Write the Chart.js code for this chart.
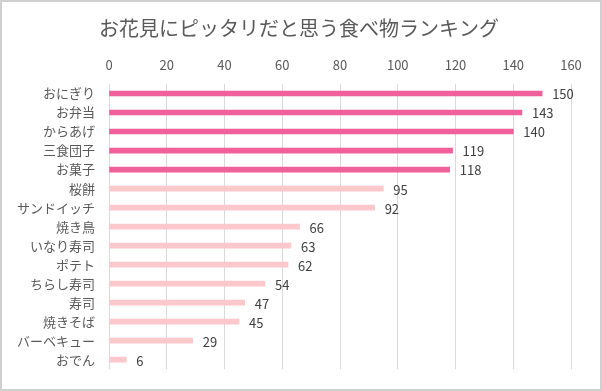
<!DOCTYPE html>
<html>
<head>
<meta charset="utf-8">
<script src="https://cdn.jsdelivr.net/npm/chart.js@4.4.0/dist/chart.umd.min.js"></script>
<style>
  body { margin: 0; background: #fff; }
  canvas { display: block; }
</style>
</head>
<body>
<canvas id="chart" width="602" height="391"></canvas>
<script>
const titleText = 'お花見にピッタリだと思う食べ物ランキング';
const foods = ['おにぎり', 'お弁当', 'からあげ', '三食団子', 'お菓子', '桜餅', 'サンドイッチ', '焼き鳥', 'いなり寿司', 'ポテト', 'ちらし寿司', '寿司', '焼きそば', 'バーベキュー', 'おでん'];
const votes = [150, 143, 140, 119, 118, 95, 92, 66, 63, 62, 54, 47, 45, 29, 6];
const topCount = 5;

const font = '"Noto Sans CJK JP", "Noto Sans", sans-serif';

// 上位5つは濃いピンク
const barColors = votes.map((v, i) => i < topCount ? '#f0609a' : '#fcc8cc');

// タイトル・枠線・数値ラベル
const decorations = {
    id: 'decorations',
    beforeDraw(chart) {
        const ctx = chart.ctx;
        ctx.save();
        ctx.fillStyle = '#fff';
        ctx.fillRect(0, 0, chart.width, chart.height);
        ctx.restore();
    },
    afterDraw(chart) {
        const ctx = chart.ctx;
        ctx.save();
        ctx.font = '20px ' + font;
        ctx.fillStyle = '#595959';
        ctx.textAlign = 'center';
        ctx.textBaseline = 'middle';
        ctx.fillText(titleText, 299, 28);

        ctx.font = '13px ' + font;
        ctx.fillStyle = '#404040';
        ctx.textAlign = 'left';
        chart.getDatasetMeta(0).data.forEach((bar, i) => {
            ctx.fillText(votes[i], bar.x + 10, bar.y + 1);
        });

        ctx.strokeStyle = '#d0d0d0';
        ctx.lineWidth = 2;
        ctx.strokeRect(1, 1, chart.width - 2, chart.height - 2);
        ctx.restore();
    }
};

new Chart(document.getElementById('chart').getContext('2d'), {
    type: 'bar',
    data: {
        labels: foods,
        datasets: [{
            data: votes,
            backgroundColor: barColors,
            barThickness: 5
        }]
    },
    options: {
        indexAxis: 'y',
        responsive: false,
        animation: false,
        layout: { padding: { top: 56, right: 31, bottom: 19, left: 0 } },
        plugins: {
            legend: { display: false },
            tooltip: { enabled: false }
        },
        scales: {
            x: {
                position: 'top',
                min: 0,
                max: 160,
                ticks: {
                    stepSize: 20,
                    padding: 11,
                    color: '#595959',
                    font: { family: font, size: 13 }
                },
                grid: { color: '#d9d9d9', drawTicks: false },
                border: { display: false },
                afterFit(scale) { scale.height = 28; }
            },
            y: {
                ticks: {
                    padding: 14,
                    color: '#595959',
                    font: { family: font, size: 13 }
                },
                grid: { display: false, drawTicks: false },
                border: { display: false },
                afterFit(scale) { scale.width = 109; }
            }
        }
    },
    plugins: [decorations]
});
</script>
</body>
</html>
